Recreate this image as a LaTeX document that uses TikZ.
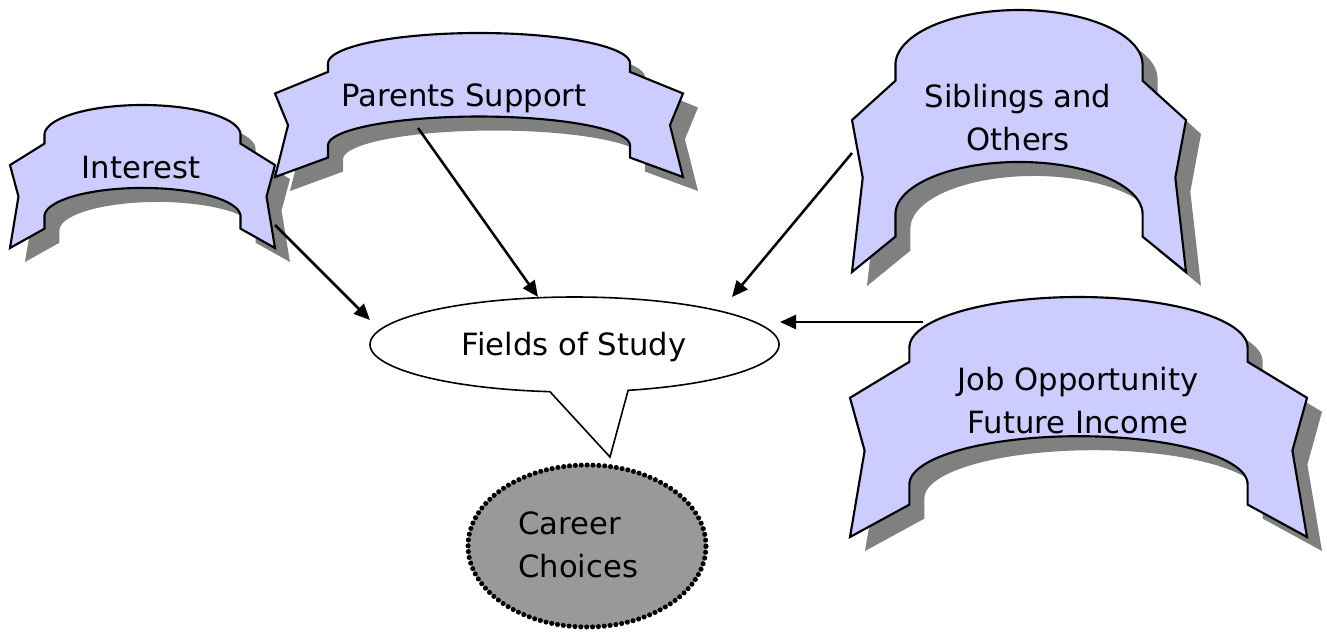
\documentclass[tikz,border=0pt]{standalone}
\usepackage{fontspec}
\setmainfont{DejaVu Sans}
\usetikzlibrary{arrows.meta,shapes.geometric}
\definecolor{ribbonfill}{RGB}{204,204,255}
\definecolor{shadowgray}{RGB}{128,128,128}
\definecolor{careerfill}{RGB}{153,153,153}

\newcommand{\ribbonoutline}[1]{%
\path[#1] (\rbxl,\rbyA) -- (\rbL,\rbyTail) -- (\rbnL,\rbyNotch) -- (\rbL,\rbB) -- (\rbxl,\rbyIn) -- (\rbxl,\rbcyB)
 -- plot[domain=180:360, samples=80] ({\rbxm+\rbrx*cos(\x)},{\rbcyB+\rbryB*sin(\x)})
 -- (\rbxr,\rbyIn) -- (\rbR,\rbB) -- (\rbnR,\rbyNotch) -- (\rbR,\rbyTail) -- (\rbxr,\rbyA) -- (\rbxr,\rbcyT)
 -- plot[domain=0:-180, samples=80] ({\rbxm+\rbrx*cos(\x)},{\rbcyT+\rbryT*sin(\x)})
 -- cycle;}

\newcommand{\drawribbon}[4]{%
  \pgfmathsetmacro{\rbL}{#1}\pgfmathsetmacro{\rbT}{#2}%
  \pgfmathsetmacro{\rbR}{#3}\pgfmathsetmacro{\rbB}{#4}%
  \pgfmathsetmacro{\rbW}{\rbR-\rbL}\pgfmathsetmacro{\rbH}{\rbB-\rbT}%
  \pgfmathsetmacro{\rbxl}{\rbL+0.13*\rbW}%
  \pgfmathsetmacro{\rbxr}{\rbR-0.13*\rbW}%
  \pgfmathsetmacro{\rbxm}{(\rbL+\rbR)/2}%
  \pgfmathsetmacro{\rbrx}{\rbxm-\rbxl}%
  \pgfmathsetmacro{\rbnL}{\rbL+0.032*\rbW}%
  \pgfmathsetmacro{\rbnR}{\rbR-0.032*\rbW}%
  \pgfmathsetmacro{\rbyA}{\rbT+0.27*\rbH}%
  \pgfmathsetmacro{\rbryT}{0.21*\rbH}%
  \pgfmathsetmacro{\rbcyT}{\rbT+\rbryT}%
  \pgfmathsetmacro{\rbyTail}{\rbT+0.42*\rbH}%
  \pgfmathsetmacro{\rbyNotch}{\rbT+0.64*\rbH}%
  \pgfmathsetmacro{\rbyIn}{\rbT+0.865*\rbH}%
  \pgfmathsetmacro{\rbryB}{0.2*\rbH}%
  \pgfmathsetmacro{\rbcyB}{\rbT+0.58*\rbH+\rbryB}%
  \ribbonoutline{fill=shadowgray, shift={(15,14)}}%
  \ribbonoutline{fill=ribbonfill, draw=black, line width=1.6pt, line join=miter}%
}

\tikzset{
  lbl/.style={font=\fontsize{23}{32}\selectfont, inner sep=0pt, align=center},
  conn/.style={line width=1.9pt, -{Triangle[length=12pt,width=10.5pt]}},
}

\begin{document}
\begin{tikzpicture}[x=0.75pt,y=-0.75pt]
\useasboundingbox (0,0) rectangle (1327,635);

% ribbons
\drawribbon{10}{105}{275}{248}
\drawribbon{275}{33}{683}{177}
\drawribbon{852}{10}{1186}{272}
\drawribbon{850}{297}{1307}{537}

\node[lbl, anchor=base] (interest) at (141,178) {Interest};
\node[lbl, anchor=base] (parents) at (464,107) {Parents Support};
\node[lbl, anchor=base] (siblings) at (1018,150) {Siblings and\\Others};
\node[lbl, anchor=base] (job) at (1078,433) {Job Opportunity\\Future Income};

% fields of study callout
\draw[line width=1.2pt, fill=white, line join=miter]
  plot[domain=74.8:-263.1, samples=200] ({574.5+204.5*cos(\x)},{344.5+47.5*sin(\x)})
  -- (610,457) -- cycle;
\node[lbl, anchor=base] (fos) at (574,355) {Fields of Study};

% career choices
\node[ellipse, draw=black, fill=careerfill, line width=3.8pt,
      dash pattern=on 0pt off 4.4pt, line cap=round,
      minimum width=178.5pt, minimum height=121.5pt, inner sep=0pt] (career) at (587,546) {};
\node[lbl, anchor=base west, align=left] (careertext) at (518,577) {Career\\Choices};

% connector end points
\coordinate (interest-out) at (275,225);
\coordinate (parents-out) at (418,128);
\coordinate (siblings-out) at (852,153);
\coordinate (job-out) at (923,322);
\coordinate (fos-in1) at (370,320);
\coordinate (fos-in2) at (538,297);
\coordinate (fos-in3) at (732,297);
\coordinate (fos-in4) at (780,322);

\draw[conn] (interest-out) -- (fos-in1);
\draw[conn] (parents-out) -- (fos-in2);
\draw[conn] (siblings-out) -- (fos-in3);
\draw[conn] (job-out) -- (fos-in4);
\end{tikzpicture}
\end{document}
